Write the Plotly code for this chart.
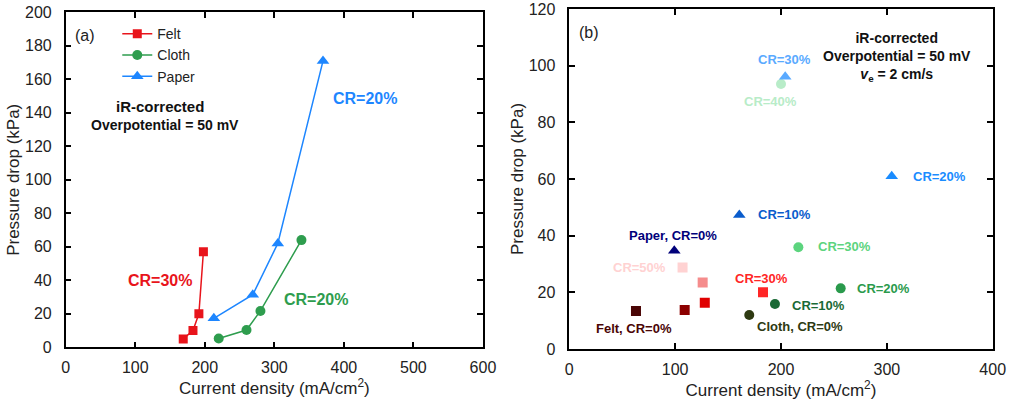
import plotly.graph_objects as go

# ---------------- Panel (a) data ----------------
felt_a_x = [169, 183, 191.5, 198]
felt_a_y = [5, 10, 20, 57]
cloth_a_x = [220, 260, 280, 339]
cloth_a_y = [5.2, 10.3, 21.7, 64]
paper_a_x = [213, 269, 305, 370]
paper_a_y = [17.3, 31.4, 62, 171]

# ---------------- Panel (b) data ----------------
felt_b_cr = ["0%", "10%", "20%", "30%", "40%", "50%"]
felt_b_x = [63, 109, 128, 183, 126, 107]
felt_b_y = [13.4, 13.8, 16.3, 20, 23.5, 28.8]
felt_b_col = ["#4a0505", "#8c0000", "#e00000", "#ff2626", "#f58c8c", "#ffd2d2"]

cloth_b_cr = ["0%", "10%", "20%", "30%", "40%"]
cloth_b_x = [170, 194.3, 256.4, 216.4, 200]
cloth_b_y = [12, 15.9, 21.4, 35.9, 93.5]
cloth_b_col = ["#2e3a12", "#1a6a36", "#2a9a4c", "#5cd47e", "#b8ecc8"]

paper_b_cr = ["0%", "10%", "20%", "30%"]
paper_b_x = [99.2, 160.6, 304.6, 204]
paper_b_y = [34.7, 47.3, 61, 96.1]
paper_b_col = ["#00007a", "#0a5ccc", "#1a8cff", "#5aaaff"]

RED, GREEN, BLUE = "#e8141b", "#2e9d4e", "#1d86ff"
FONT = "Liberation Sans, Arial, sans-serif"

fig = go.Figure()

fig.add_trace(go.Scatter(x=felt_a_x, y=felt_a_y, mode="lines+markers", name="Felt",
                         line=dict(color=RED, width=1.5),
                         marker=dict(symbol="square", size=9, color=RED),
                         xaxis="x", yaxis="y"))
fig.add_trace(go.Scatter(x=cloth_a_x, y=cloth_a_y, mode="lines+markers", name="Cloth",
                         line=dict(color=GREEN, width=1.5),
                         marker=dict(symbol="circle", size=10, color=GREEN),
                         xaxis="x", yaxis="y"))
fig.add_trace(go.Scatter(x=paper_a_x, y=paper_a_y, mode="lines+markers", name="Paper",
                         line=dict(color=BLUE, width=1.5),
                         marker=dict(symbol="triangle-up", size=11, color=BLUE),
                         xaxis="x", yaxis="y"))

fig.add_trace(go.Scatter(x=felt_b_x, y=felt_b_y, mode="markers", showlegend=False,
                         marker=dict(symbol="square", size=10, color=felt_b_col),
                         xaxis="x2", yaxis="y2"))
fig.add_trace(go.Scatter(x=cloth_b_x, y=cloth_b_y, mode="markers", showlegend=False,
                         marker=dict(symbol="circle", size=10, color=cloth_b_col),
                         xaxis="x2", yaxis="y2"))
fig.add_trace(go.Scatter(x=paper_b_x, y=paper_b_y, mode="markers", showlegend=False,
                         marker=dict(symbol="triangle-up", size=11, color=paper_b_col),
                         xaxis="x2", yaxis="y2"))

axis_common = dict(showline=True, mirror="ticks", linecolor="black", linewidth=1.5,
                   ticks="inside", ticklen=6, tickwidth=1.5, tickcolor="black",
                   showgrid=False, zeroline=False, automargin=False,
                   tickfont=dict(family=FONT, size=16, color="#222"))

xtitle = dict(text="Current density (mA/cm<sup>2</sup>)",
              font=dict(family=FONT, size=17, color="#222"), standoff=7)
ytitle = dict(text="Pressure drop (kPa)",
              font=dict(family=FONT, size=17, color="#222"), standoff=1)

fig.update_layout(
    width=1011, height=405,
    margin=dict(l=0, r=0, t=0, b=0),
    paper_bgcolor="white", plot_bgcolor="white",
    font=dict(family=FONT, color="#222"),
    xaxis=dict(domain=[0.065, 0.4777], range=[0, 600], dtick=100, anchor="y",
               title=xtitle, ticklabelstandoff=5, **axis_common),
    yaxis=dict(domain=[0.1425, 0.9696], range=[0, 200], dtick=20, anchor="x",
               title=ytitle, ticklabelstandoff=9, **axis_common),
    xaxis2=dict(domain=[0.5631, 0.9819], range=[0, 400], dtick=100, anchor="y2",
                title=xtitle, ticklabelstandoff=5, **axis_common),
    yaxis2=dict(domain=[0.1383, 0.9778], range=[0, 120], dtick=20, anchor="x2",
                title=ytitle, ticklabelstandoff=9, **axis_common),
    legend=dict(x=0.116, y=0.955, xanchor="left", yanchor="top",
                bgcolor="rgba(0,0,0,0)", font=dict(family=FONT, size=14, color="#222"),
                tracegroupgap=0, itemwidth=30),
)

ann = []
def A(text, x, y, xref, yref, color="#111", size=14, xanchor="center", bold=True):
    t = f"<b>{text}</b>" if bold else text
    ann.append(dict(text=t, x=x, y=y, xref=xref, yref=yref, showarrow=False,
                    xanchor=xanchor, yanchor="middle",
                    font=dict(family=FONT, size=size, color=color)))

# panel (a)
A("(a)", 0.018, 0.93, "x domain", "y domain", color="#222", size=16, xanchor="left", bold=False)
A("iR-corrected", 135, 143.5, "x", "y", size=15)
A("Overpotential = 50 mV", 143, 132.7, "x", "y", size=14)
A("CR=20%", 430, 148.8, "x", "y", color=BLUE, size=16)
A("CR=30%", 135.5, 40, "x", "y", color=RED, size=16)
A("CR=20%", 360, 28.8, "x", "y", color=GREEN, size=16)

# panel (b)
A("(b)", 0.018, 0.93, "x2 domain", "y2 domain", color="#222", size=16, xanchor="left", bold=False)
A("iR-corrected<br>Overpotential = 50 mV<br><i>v</i><sub>e</sub> = 2 cm/s", 310, 103, "x2", "y2", size=14)
S = 13
A("CR=" + paper_b_cr[3], 203, 102, "x2", "y2", color=paper_b_col[3], size=S)
A("CR=" + cloth_b_cr[4], 190.4, 87.5, "x2", "y2", color=cloth_b_col[4], size=S)
A("CR=" + paper_b_cr[2], 323, 61, "x2", "y2", color=paper_b_col[2], size=S, xanchor="left")
A("CR=" + paper_b_cr[1], 176.6, 47.6, "x2", "y2", color=paper_b_col[1], size=S, xanchor="left")
A("Paper, CR=" + paper_b_cr[0], 97.9, 40.2, "x2", "y2", color=paper_b_col[0], size=S)
A("CR=" + cloth_b_cr[3], 232.9, 36, "x2", "y2", color=cloth_b_col[3], size=S, xanchor="left")
A("CR=" + felt_b_cr[5], 93.5, 28.6, "x2", "y2", color=felt_b_col[5], size=S, xanchor="right")
A("CR=" + felt_b_cr[3], 182, 25, "x2", "y2", color=felt_b_col[3], size=S)
A("CR=" + cloth_b_cr[2], 270, 21.2, "x2", "y2", color=cloth_b_col[2], size=S, xanchor="left")
A("CR=" + cloth_b_cr[1], 208.3, 15.5, "x2", "y2", color=cloth_b_col[1], size=S, xanchor="left")
A("Cloth, CR=" + cloth_b_cr[0], 217.7, 7.8, "x2", "y2", color=cloth_b_col[0], size=S)
A("Felt, CR=" + felt_b_cr[0], 61.1, 7.4, "x2", "y2", color=felt_b_col[0], size=S)

fig.update_layout(annotations=ann)
fig.write_html("out.html")
